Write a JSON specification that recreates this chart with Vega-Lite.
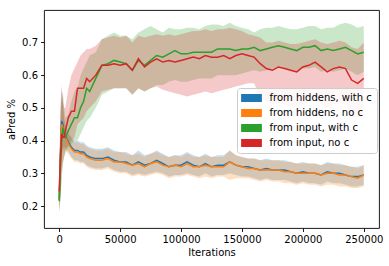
{
  "$schema": "https://vega.github.io/schema/vega-lite/v6.json",
  "width": 335,
  "height": 218,
  "autosize": "none",
  "padding": {"left": 44, "top": 10, "right": 10, "bottom": 38},
  "config": {
    "view": {"stroke": "#000000", "strokeWidth": 0.9},
    "font": "DejaVu Sans",
    "axis": {"grid": false, "domain": false, "tickColor": "#000000", "tickSize": 3.5, "tickWidth": 0.9, "labelFont": "DejaVu Sans", "labelFontSize": 10, "labelColor": "#000000", "labelPadding": 3, "titleFont": "DejaVu Sans", "titleFontSize": 10, "titleFontWeight": "normal", "titleColor": "#000000"},
    "legend": {"orient": "none", "legendX": 193, "legendY": 78, "padding": 5, "strokeColor": "#cccccc", "fillColor": "rgba(255,255,255,0.85)", "cornerRadius": 3, "labelFont": "DejaVu Sans", "labelFontSize": 10, "labelColor": "#000000", "rowPadding": 5, "symbolType": "M-2.6,-1H2.6V1H-2.6Z", "symbolSize": 64, "symbolStrokeWidth": 0, "symbolOpacity": 1, "symbolOffset": 4.5, "labelOffset": 13, "title": null}
  },
  "data": {"values": [
{"s":"from hiddens, with c","x":0,"m":0.22,"lo":0.19,"hi":0.26},
{"s":"from hiddens, with c","x":1000,"m":0.36,"lo":0.26,"hi":0.48},
{"s":"from hiddens, with c","x":2000,"m":0.46,"lo":0.36,"hi":0.56},
{"s":"from hiddens, with c","x":3000,"m":0.45,"lo":0.38,"hi":0.52},
{"s":"from hiddens, with c","x":4000,"m":0.42,"lo":0.38,"hi":0.47},
{"s":"from hiddens, with c","x":5000,"m":0.415,"lo":0.38,"hi":0.45},
{"s":"from hiddens, with c","x":7500,"m":0.395,"lo":0.365,"hi":0.425},
{"s":"from hiddens, with c","x":10000,"m":0.38,"lo":0.35,"hi":0.41},
{"s":"from hiddens, with c","x":12500,"m":0.37,"lo":0.34,"hi":0.4},
{"s":"from hiddens, with c","x":15000,"m":0.37,"lo":0.34,"hi":0.4},
{"s":"from hiddens, with c","x":17500,"m":0.365,"lo":0.335,"hi":0.395},
{"s":"from hiddens, with c","x":20000,"m":0.365,"lo":0.335,"hi":0.395},
{"s":"from hiddens, with c","x":22500,"m":0.355,"lo":0.325,"hi":0.385},
{"s":"from hiddens, with c","x":25000,"m":0.35,"lo":0.32,"hi":0.38},
{"s":"from hiddens, with c","x":30000,"m":0.345,"lo":0.315,"hi":0.375},
{"s":"from hiddens, with c","x":35000,"m":0.345,"lo":0.315,"hi":0.375},
{"s":"from hiddens, with c","x":40000,"m":0.35,"lo":0.32,"hi":0.38},
{"s":"from hiddens, with c","x":45000,"m":0.34,"lo":0.31,"hi":0.37},
{"s":"from hiddens, with c","x":50000,"m":0.335,"lo":0.305,"hi":0.365},
{"s":"from hiddens, with c","x":55000,"m":0.335,"lo":0.305,"hi":0.365},
{"s":"from hiddens, with c","x":60000,"m":0.325,"lo":0.295,"hi":0.355},
{"s":"from hiddens, with c","x":65000,"m":0.335,"lo":0.3,"hi":0.37},
{"s":"from hiddens, with c","x":70000,"m":0.325,"lo":0.295,"hi":0.355},
{"s":"from hiddens, with c","x":75000,"m":0.33,"lo":0.3,"hi":0.36},
{"s":"from hiddens, with c","x":80000,"m":0.34,"lo":0.305,"hi":0.37},
{"s":"from hiddens, with c","x":85000,"m":0.33,"lo":0.3,"hi":0.36},
{"s":"from hiddens, with c","x":90000,"m":0.32,"lo":0.29,"hi":0.35},
{"s":"from hiddens, with c","x":95000,"m":0.325,"lo":0.295,"hi":0.355},
{"s":"from hiddens, with c","x":100000,"m":0.325,"lo":0.295,"hi":0.355},
{"s":"from hiddens, with c","x":105000,"m":0.335,"lo":0.3,"hi":0.365},
{"s":"from hiddens, with c","x":110000,"m":0.325,"lo":0.295,"hi":0.355},
{"s":"from hiddens, with c","x":115000,"m":0.32,"lo":0.29,"hi":0.35},
{"s":"from hiddens, with c","x":120000,"m":0.33,"lo":0.3,"hi":0.36},
{"s":"from hiddens, with c","x":125000,"m":0.32,"lo":0.29,"hi":0.35},
{"s":"from hiddens, with c","x":130000,"m":0.325,"lo":0.295,"hi":0.355},
{"s":"from hiddens, with c","x":135000,"m":0.325,"lo":0.295,"hi":0.355},
{"s":"from hiddens, with c","x":140000,"m":0.335,"lo":0.3,"hi":0.37},
{"s":"from hiddens, with c","x":145000,"m":0.325,"lo":0.295,"hi":0.355},
{"s":"from hiddens, with c","x":150000,"m":0.32,"lo":0.29,"hi":0.35},
{"s":"from hiddens, with c","x":155000,"m":0.32,"lo":0.29,"hi":0.345},
{"s":"from hiddens, with c","x":160000,"m":0.315,"lo":0.285,"hi":0.345},
{"s":"from hiddens, with c","x":165000,"m":0.31,"lo":0.28,"hi":0.34},
{"s":"from hiddens, with c","x":170000,"m":0.315,"lo":0.285,"hi":0.345},
{"s":"from hiddens, with c","x":175000,"m":0.31,"lo":0.28,"hi":0.34},
{"s":"from hiddens, with c","x":180000,"m":0.31,"lo":0.28,"hi":0.34},
{"s":"from hiddens, with c","x":185000,"m":0.31,"lo":0.28,"hi":0.34},
{"s":"from hiddens, with c","x":190000,"m":0.305,"lo":0.275,"hi":0.335},
{"s":"from hiddens, with c","x":195000,"m":0.3,"lo":0.27,"hi":0.33},
{"s":"from hiddens, with c","x":200000,"m":0.305,"lo":0.275,"hi":0.335},
{"s":"from hiddens, with c","x":205000,"m":0.3,"lo":0.27,"hi":0.33},
{"s":"from hiddens, with c","x":210000,"m":0.3,"lo":0.27,"hi":0.33},
{"s":"from hiddens, with c","x":215000,"m":0.295,"lo":0.265,"hi":0.325},
{"s":"from hiddens, with c","x":220000,"m":0.305,"lo":0.275,"hi":0.335},
{"s":"from hiddens, with c","x":225000,"m":0.3,"lo":0.27,"hi":0.33},
{"s":"from hiddens, with c","x":230000,"m":0.3,"lo":0.27,"hi":0.33},
{"s":"from hiddens, with c","x":235000,"m":0.295,"lo":0.265,"hi":0.325},
{"s":"from hiddens, with c","x":240000,"m":0.29,"lo":0.26,"hi":0.32},
{"s":"from hiddens, with c","x":245000,"m":0.29,"lo":0.26,"hi":0.32},
{"s":"from hiddens, with c","x":250000,"m":0.295,"lo":0.265,"hi":0.325},
{"s":"from hiddens, no c","x":0,"m":0.22,"lo":0.18,"hi":0.26},
{"s":"from hiddens, no c","x":1000,"m":0.35,"lo":0.25,"hi":0.47},
{"s":"from hiddens, no c","x":2000,"m":0.45,"lo":0.35,"hi":0.55},
{"s":"from hiddens, no c","x":3000,"m":0.44,"lo":0.37,"hi":0.51},
{"s":"from hiddens, no c","x":4000,"m":0.42,"lo":0.37,"hi":0.46},
{"s":"from hiddens, no c","x":5000,"m":0.41,"lo":0.37,"hi":0.445},
{"s":"from hiddens, no c","x":7500,"m":0.39,"lo":0.36,"hi":0.42},
{"s":"from hiddens, no c","x":10000,"m":0.375,"lo":0.345,"hi":0.405},
{"s":"from hiddens, no c","x":12500,"m":0.365,"lo":0.335,"hi":0.395},
{"s":"from hiddens, no c","x":15000,"m":0.365,"lo":0.335,"hi":0.395},
{"s":"from hiddens, no c","x":17500,"m":0.36,"lo":0.33,"hi":0.39},
{"s":"from hiddens, no c","x":20000,"m":0.36,"lo":0.33,"hi":0.39},
{"s":"from hiddens, no c","x":22500,"m":0.35,"lo":0.32,"hi":0.38},
{"s":"from hiddens, no c","x":25000,"m":0.345,"lo":0.315,"hi":0.375},
{"s":"from hiddens, no c","x":30000,"m":0.34,"lo":0.31,"hi":0.37},
{"s":"from hiddens, no c","x":35000,"m":0.34,"lo":0.31,"hi":0.37},
{"s":"from hiddens, no c","x":40000,"m":0.345,"lo":0.315,"hi":0.375},
{"s":"from hiddens, no c","x":45000,"m":0.335,"lo":0.305,"hi":0.365},
{"s":"from hiddens, no c","x":50000,"m":0.335,"lo":0.3,"hi":0.365},
{"s":"from hiddens, no c","x":55000,"m":0.33,"lo":0.3,"hi":0.36},
{"s":"from hiddens, no c","x":60000,"m":0.325,"lo":0.29,"hi":0.355},
{"s":"from hiddens, no c","x":65000,"m":0.33,"lo":0.295,"hi":0.36},
{"s":"from hiddens, no c","x":70000,"m":0.32,"lo":0.29,"hi":0.35},
{"s":"from hiddens, no c","x":75000,"m":0.33,"lo":0.295,"hi":0.36},
{"s":"from hiddens, no c","x":80000,"m":0.335,"lo":0.3,"hi":0.365},
{"s":"from hiddens, no c","x":85000,"m":0.325,"lo":0.295,"hi":0.355},
{"s":"from hiddens, no c","x":90000,"m":0.32,"lo":0.285,"hi":0.35},
{"s":"from hiddens, no c","x":95000,"m":0.325,"lo":0.29,"hi":0.355},
{"s":"from hiddens, no c","x":100000,"m":0.32,"lo":0.29,"hi":0.35},
{"s":"from hiddens, no c","x":105000,"m":0.33,"lo":0.295,"hi":0.36},
{"s":"from hiddens, no c","x":110000,"m":0.32,"lo":0.29,"hi":0.35},
{"s":"from hiddens, no c","x":115000,"m":0.32,"lo":0.285,"hi":0.35},
{"s":"from hiddens, no c","x":120000,"m":0.325,"lo":0.29,"hi":0.355},
{"s":"from hiddens, no c","x":125000,"m":0.32,"lo":0.285,"hi":0.35},
{"s":"from hiddens, no c","x":130000,"m":0.32,"lo":0.29,"hi":0.35},
{"s":"from hiddens, no c","x":135000,"m":0.32,"lo":0.29,"hi":0.35},
{"s":"from hiddens, no c","x":140000,"m":0.335,"lo":0.28,"hi":0.37},
{"s":"from hiddens, no c","x":145000,"m":0.325,"lo":0.285,"hi":0.355},
{"s":"from hiddens, no c","x":150000,"m":0.32,"lo":0.285,"hi":0.35},
{"s":"from hiddens, no c","x":155000,"m":0.315,"lo":0.285,"hi":0.345},
{"s":"from hiddens, no c","x":160000,"m":0.315,"lo":0.28,"hi":0.345},
{"s":"from hiddens, no c","x":165000,"m":0.31,"lo":0.275,"hi":0.34},
{"s":"from hiddens, no c","x":170000,"m":0.31,"lo":0.28,"hi":0.34},
{"s":"from hiddens, no c","x":175000,"m":0.31,"lo":0.275,"hi":0.34},
{"s":"from hiddens, no c","x":180000,"m":0.31,"lo":0.275,"hi":0.34},
{"s":"from hiddens, no c","x":185000,"m":0.305,"lo":0.27,"hi":0.335},
{"s":"from hiddens, no c","x":190000,"m":0.305,"lo":0.27,"hi":0.335},
{"s":"from hiddens, no c","x":195000,"m":0.3,"lo":0.265,"hi":0.33},
{"s":"from hiddens, no c","x":200000,"m":0.3,"lo":0.27,"hi":0.33},
{"s":"from hiddens, no c","x":205000,"m":0.3,"lo":0.265,"hi":0.33},
{"s":"from hiddens, no c","x":210000,"m":0.3,"lo":0.265,"hi":0.33},
{"s":"from hiddens, no c","x":215000,"m":0.295,"lo":0.26,"hi":0.325},
{"s":"from hiddens, no c","x":220000,"m":0.3,"lo":0.265,"hi":0.33},
{"s":"from hiddens, no c","x":225000,"m":0.3,"lo":0.265,"hi":0.33},
{"s":"from hiddens, no c","x":230000,"m":0.295,"lo":0.26,"hi":0.325},
{"s":"from hiddens, no c","x":235000,"m":0.295,"lo":0.26,"hi":0.325},
{"s":"from hiddens, no c","x":240000,"m":0.29,"lo":0.255,"hi":0.32},
{"s":"from hiddens, no c","x":245000,"m":0.285,"lo":0.255,"hi":0.315},
{"s":"from hiddens, no c","x":250000,"m":0.295,"lo":0.26,"hi":0.325},
{"s":"from input, with c","x":0,"m":0.215,"lo":0.19,"hi":0.24},
{"s":"from input, with c","x":1000,"m":0.32,"lo":0.22,"hi":0.45},
{"s":"from input, with c","x":2000,"m":0.4,"lo":0.28,"hi":0.52},
{"s":"from input, with c","x":3000,"m":0.44,"lo":0.33,"hi":0.55},
{"s":"from input, with c","x":4000,"m":0.42,"lo":0.35,"hi":0.5},
{"s":"from input, with c","x":5000,"m":0.41,"lo":0.36,"hi":0.47},
{"s":"from input, with c","x":7500,"m":0.43,"lo":0.38,"hi":0.48},
{"s":"from input, with c","x":10000,"m":0.45,"lo":0.39,"hi":0.52},
{"s":"from input, with c","x":12500,"m":0.47,"lo":0.4,"hi":0.55},
{"s":"from input, with c","x":15000,"m":0.47,"lo":0.4,"hi":0.56},
{"s":"from input, with c","x":17500,"m":0.5,"lo":0.42,"hi":0.6},
{"s":"from input, with c","x":20000,"m":0.52,"lo":0.44,"hi":0.62},
{"s":"from input, with c","x":22500,"m":0.56,"lo":0.46,"hi":0.64},
{"s":"from input, with c","x":25000,"m":0.55,"lo":0.47,"hi":0.66},
{"s":"from input, with c","x":30000,"m":0.59,"lo":0.5,"hi":0.67},
{"s":"from input, with c","x":35000,"m":0.63,"lo":0.54,"hi":0.71},
{"s":"from input, with c","x":40000,"m":0.635,"lo":0.55,"hi":0.72},
{"s":"from input, with c","x":45000,"m":0.645,"lo":0.56,"hi":0.73},
{"s":"from input, with c","x":50000,"m":0.64,"lo":0.56,"hi":0.72},
{"s":"from input, with c","x":55000,"m":0.635,"lo":0.56,"hi":0.72},
{"s":"from input, with c","x":60000,"m":0.615,"lo":0.54,"hi":0.71},
{"s":"from input, with c","x":65000,"m":0.645,"lo":0.56,"hi":0.73},
{"s":"from input, with c","x":70000,"m":0.63,"lo":0.55,"hi":0.74},
{"s":"from input, with c","x":75000,"m":0.645,"lo":0.56,"hi":0.75},
{"s":"from input, with c","x":80000,"m":0.66,"lo":0.57,"hi":0.74},
{"s":"from input, with c","x":85000,"m":0.655,"lo":0.57,"hi":0.73},
{"s":"from input, with c","x":90000,"m":0.665,"lo":0.58,"hi":0.745},
{"s":"from input, with c","x":95000,"m":0.675,"lo":0.585,"hi":0.74},
{"s":"from input, with c","x":100000,"m":0.665,"lo":0.58,"hi":0.74},
{"s":"from input, with c","x":105000,"m":0.665,"lo":0.58,"hi":0.745},
{"s":"from input, with c","x":110000,"m":0.67,"lo":0.585,"hi":0.745},
{"s":"from input, with c","x":115000,"m":0.67,"lo":0.59,"hi":0.74},
{"s":"from input, with c","x":120000,"m":0.67,"lo":0.59,"hi":0.75},
{"s":"from input, with c","x":125000,"m":0.67,"lo":0.59,"hi":0.755},
{"s":"from input, with c","x":130000,"m":0.68,"lo":0.6,"hi":0.755},
{"s":"from input, with c","x":135000,"m":0.68,"lo":0.6,"hi":0.75},
{"s":"from input, with c","x":140000,"m":0.68,"lo":0.6,"hi":0.76},
{"s":"from input, with c","x":145000,"m":0.675,"lo":0.6,"hi":0.75},
{"s":"from input, with c","x":150000,"m":0.68,"lo":0.605,"hi":0.745},
{"s":"from input, with c","x":155000,"m":0.68,"lo":0.61,"hi":0.74},
{"s":"from input, with c","x":160000,"m":0.685,"lo":0.615,"hi":0.73},
{"s":"from input, with c","x":165000,"m":0.675,"lo":0.61,"hi":0.74},
{"s":"from input, with c","x":170000,"m":0.68,"lo":0.615,"hi":0.745},
{"s":"from input, with c","x":175000,"m":0.685,"lo":0.62,"hi":0.745},
{"s":"from input, with c","x":180000,"m":0.69,"lo":0.625,"hi":0.75},
{"s":"from input, with c","x":185000,"m":0.685,"lo":0.62,"hi":0.745},
{"s":"from input, with c","x":190000,"m":0.68,"lo":0.615,"hi":0.74},
{"s":"from input, with c","x":195000,"m":0.675,"lo":0.61,"hi":0.74},
{"s":"from input, with c","x":200000,"m":0.685,"lo":0.62,"hi":0.745},
{"s":"from input, with c","x":205000,"m":0.685,"lo":0.62,"hi":0.75},
{"s":"from input, with c","x":210000,"m":0.69,"lo":0.625,"hi":0.75},
{"s":"from input, with c","x":215000,"m":0.675,"lo":0.61,"hi":0.74},
{"s":"from input, with c","x":220000,"m":0.68,"lo":0.615,"hi":0.745},
{"s":"from input, with c","x":225000,"m":0.675,"lo":0.61,"hi":0.745},
{"s":"from input, with c","x":230000,"m":0.68,"lo":0.615,"hi":0.755},
{"s":"from input, with c","x":235000,"m":0.685,"lo":0.62,"hi":0.76},
{"s":"from input, with c","x":240000,"m":0.675,"lo":0.61,"hi":0.755},
{"s":"from input, with c","x":245000,"m":0.665,"lo":0.6,"hi":0.745},
{"s":"from input, with c","x":250000,"m":0.67,"lo":0.61,"hi":0.75},
{"s":"from input, no c","x":0,"m":0.245,"lo":0.18,"hi":0.3},
{"s":"from input, no c","x":1000,"m":0.35,"lo":0.22,"hi":0.5},
{"s":"from input, no c","x":2000,"m":0.42,"lo":0.3,"hi":0.57},
{"s":"from input, no c","x":3000,"m":0.41,"lo":0.33,"hi":0.52},
{"s":"from input, no c","x":4000,"m":0.41,"lo":0.35,"hi":0.5},
{"s":"from input, no c","x":5000,"m":0.43,"lo":0.37,"hi":0.5},
{"s":"from input, no c","x":7500,"m":0.47,"lo":0.39,"hi":0.56},
{"s":"from input, no c","x":10000,"m":0.49,"lo":0.4,"hi":0.6},
{"s":"from input, no c","x":12500,"m":0.49,"lo":0.41,"hi":0.62},
{"s":"from input, no c","x":15000,"m":0.56,"lo":0.45,"hi":0.64},
{"s":"from input, no c","x":17500,"m":0.56,"lo":0.46,"hi":0.66},
{"s":"from input, no c","x":20000,"m":0.56,"lo":0.47,"hi":0.67},
{"s":"from input, no c","x":22500,"m":0.59,"lo":0.49,"hi":0.68},
{"s":"from input, no c","x":25000,"m":0.58,"lo":0.5,"hi":0.68},
{"s":"from input, no c","x":30000,"m":0.6,"lo":0.52,"hi":0.69},
{"s":"from input, no c","x":35000,"m":0.63,"lo":0.55,"hi":0.71},
{"s":"from input, no c","x":40000,"m":0.63,"lo":0.555,"hi":0.715},
{"s":"from input, no c","x":45000,"m":0.635,"lo":0.56,"hi":0.72},
{"s":"from input, no c","x":50000,"m":0.63,"lo":0.56,"hi":0.715},
{"s":"from input, no c","x":55000,"m":0.635,"lo":0.56,"hi":0.72},
{"s":"from input, no c","x":60000,"m":0.615,"lo":0.54,"hi":0.7},
{"s":"from input, no c","x":65000,"m":0.65,"lo":0.56,"hi":0.72},
{"s":"from input, no c","x":70000,"m":0.625,"lo":0.55,"hi":0.715},
{"s":"from input, no c","x":75000,"m":0.64,"lo":0.56,"hi":0.72},
{"s":"from input, no c","x":80000,"m":0.65,"lo":0.565,"hi":0.725},
{"s":"from input, no c","x":85000,"m":0.64,"lo":0.555,"hi":0.72},
{"s":"from input, no c","x":90000,"m":0.645,"lo":0.55,"hi":0.725},
{"s":"from input, no c","x":95000,"m":0.64,"lo":0.545,"hi":0.72},
{"s":"from input, no c","x":100000,"m":0.645,"lo":0.54,"hi":0.725},
{"s":"from input, no c","x":105000,"m":0.65,"lo":0.535,"hi":0.73},
{"s":"from input, no c","x":110000,"m":0.655,"lo":0.54,"hi":0.735},
{"s":"from input, no c","x":115000,"m":0.65,"lo":0.545,"hi":0.735},
{"s":"from input, no c","x":120000,"m":0.66,"lo":0.55,"hi":0.74},
{"s":"from input, no c","x":125000,"m":0.655,"lo":0.545,"hi":0.735},
{"s":"from input, no c","x":130000,"m":0.655,"lo":0.55,"hi":0.74},
{"s":"from input, no c","x":135000,"m":0.66,"lo":0.555,"hi":0.74},
{"s":"from input, no c","x":140000,"m":0.65,"lo":0.56,"hi":0.745},
{"s":"from input, no c","x":145000,"m":0.66,"lo":0.565,"hi":0.74},
{"s":"from input, no c","x":150000,"m":0.665,"lo":0.57,"hi":0.735},
{"s":"from input, no c","x":155000,"m":0.66,"lo":0.575,"hi":0.725},
{"s":"from input, no c","x":160000,"m":0.655,"lo":0.575,"hi":0.72},
{"s":"from input, no c","x":165000,"m":0.635,"lo":0.53,"hi":0.715},
{"s":"from input, no c","x":170000,"m":0.62,"lo":0.52,"hi":0.7},
{"s":"from input, no c","x":175000,"m":0.615,"lo":0.51,"hi":0.7},
{"s":"from input, no c","x":180000,"m":0.625,"lo":0.515,"hi":0.705},
{"s":"from input, no c","x":185000,"m":0.62,"lo":0.51,"hi":0.7},
{"s":"from input, no c","x":190000,"m":0.615,"lo":0.505,"hi":0.695},
{"s":"from input, no c","x":195000,"m":0.61,"lo":0.5,"hi":0.695},
{"s":"from input, no c","x":200000,"m":0.625,"lo":0.51,"hi":0.7},
{"s":"from input, no c","x":205000,"m":0.63,"lo":0.52,"hi":0.705},
{"s":"from input, no c","x":210000,"m":0.64,"lo":0.525,"hi":0.71},
{"s":"from input, no c","x":215000,"m":0.625,"lo":0.51,"hi":0.7},
{"s":"from input, no c","x":220000,"m":0.61,"lo":0.5,"hi":0.695},
{"s":"from input, no c","x":225000,"m":0.62,"lo":0.51,"hi":0.7},
{"s":"from input, no c","x":230000,"m":0.625,"lo":0.515,"hi":0.705},
{"s":"from input, no c","x":235000,"m":0.62,"lo":0.51,"hi":0.7},
{"s":"from input, no c","x":240000,"m":0.585,"lo":0.48,"hi":0.685},
{"s":"from input, no c","x":245000,"m":0.575,"lo":0.47,"hi":0.68},
{"s":"from input, no c","x":250000,"m":0.59,"lo":0.48,"hi":0.7}
  ]},
  "encoding": {
    "x": {"field": "x", "type": "quantitative", "scale": {"domain": [-12500, 262500], "nice": false, "zero": false}, "axis": {"values": [0, 50000, 100000, 150000, 200000, 250000], "format": "d", "title": "Iterations", "titlePadding": 3}}
  },
  "layer": [
    {
      "mark": {"type": "area", "opacity": 0.25},
      "encoding": {
        "y": {"field": "lo", "type": "quantitative", "scale": {"domain": [0.133, 0.799], "nice": false, "zero": false}, "axis": {"values": [0.2, 0.3, 0.4, 0.5, 0.6, 0.7], "format": ".1f", "title": "aPred %", "titlePadding": 5}},
        "y2": {"field": "hi"},
        "color": {"field": "s", "type": "nominal", "scale": {"domain": ["from hiddens, with c", "from hiddens, no c", "from input, with c", "from input, no c"], "range": ["#1f77b4", "#ff7f0e", "#2ca02c", "#d62728"]}, "legend": {}}
      }
    },
    {
      "mark": {"type": "line", "strokeWidth": 1.5},
      "encoding": {
        "y": {"field": "m", "type": "quantitative"},
        "color": {"field": "s", "type": "nominal", "legend": null}
      }
    }
  ]
}
